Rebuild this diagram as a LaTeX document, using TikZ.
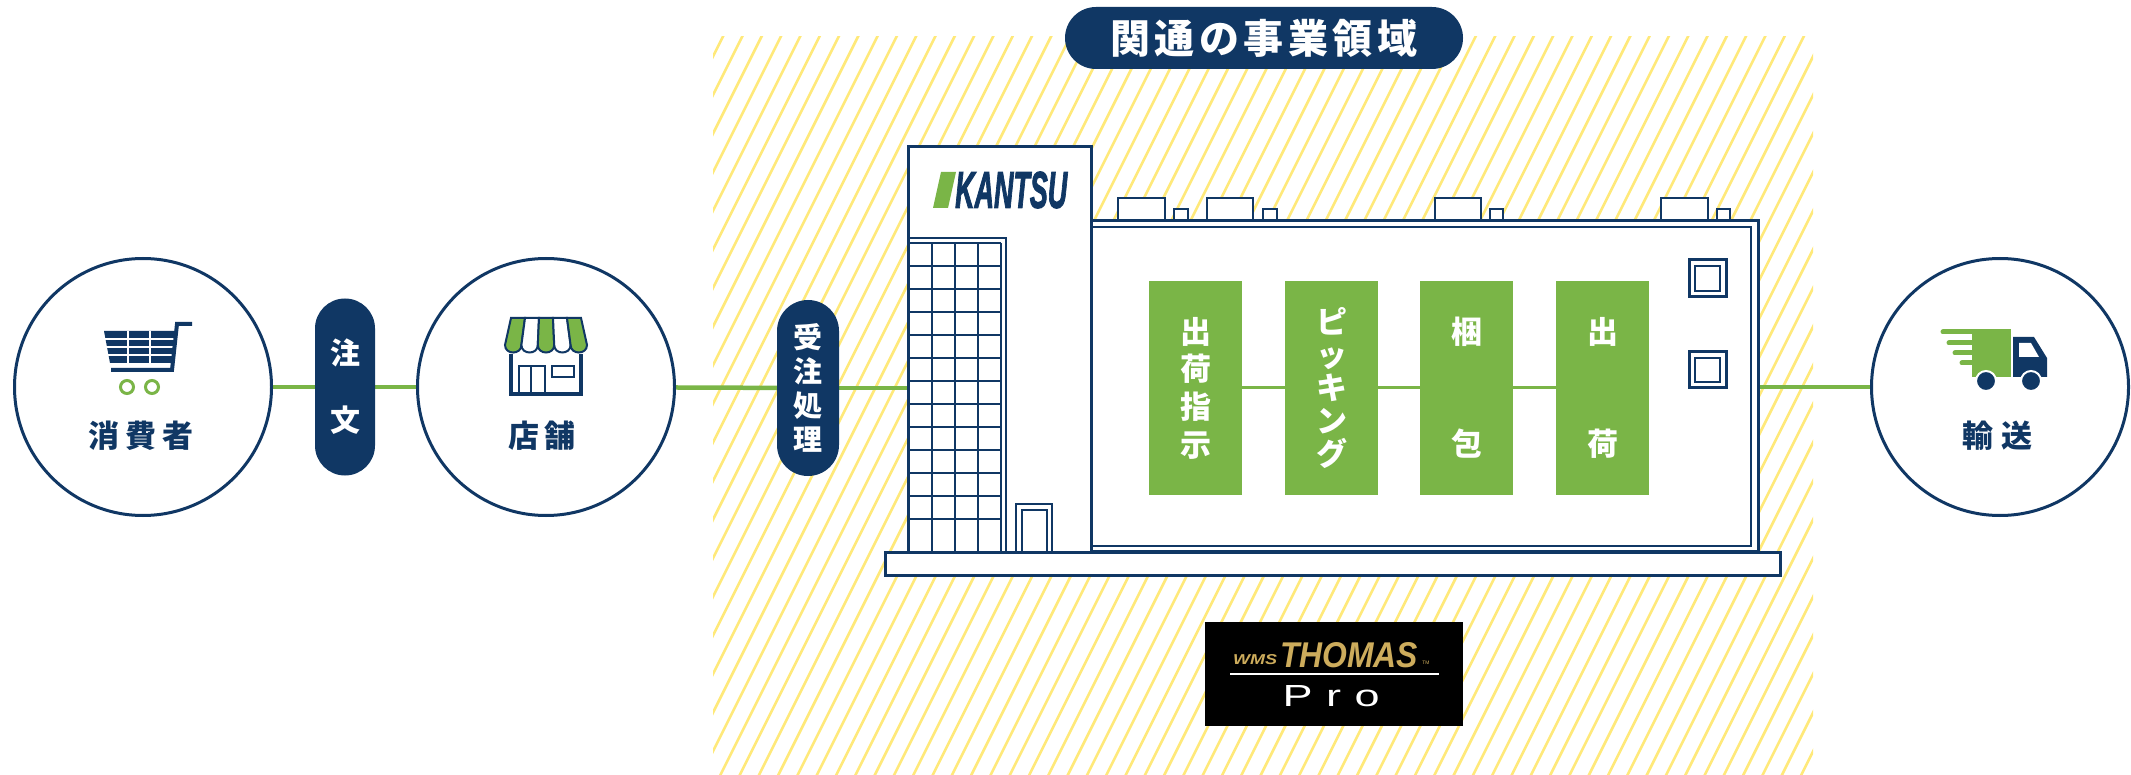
\documentclass[tikz,border=0pt]{standalone}
\usepackage{fontspec}
\usepackage{graphicx}
\newfontfamily\jp{Noto Sans CJK JP}
\newfontfamily\lsans{Liberation Sans}
\newfontfamily\logofont[FakeBold=2.5]{Liberation Sans Bold Italic}
\definecolor{navy}{RGB}{16,55,100}
\definecolor{leaf}{RGB}{122,181,71}
\definecolor{hatch}{RGB}{255,233,122}
\definecolor{gold}{RGB}{205,172,92}
\pgfdeclarelayer{hatchlayer}
\pgfdeclarelayer{linklayer}
\pgfsetlayers{hatchlayer,linklayer,main}
\begin{document}
\begin{tikzpicture}[x=1pt,y=-1pt,line join=miter,
  circ/.style={circle,draw=navy,line width=3pt,fill=white,minimum size=257pt,inner sep=0pt},
  pill/.style={rectangle,rounded corners=30pt,fill=navy,text=white,inner sep=0pt,align=center},
  stepbox/.style={rectangle,fill=leaf,text=white,minimum width=93pt,minimum height=213pt,inner sep=0pt,align=center},
  lbl/.style={text=navy,inner sep=0pt,font=\jp\bfseries\fontsize{31}{31}\selectfont},
  link/.style={draw=leaf,line width=4.5pt},
  innerlink/.style={draw=leaf,line width=3pt},
  wall/.style={draw=navy,line width=3pt,fill=white},
  fine/.style={draw=navy,line width=2.2pt},
  hatchline/.style={draw=hatch,line width=2.6pt}]
\useasboundingbox (0,0) rectangle (2131,775);

% striped business area
\begin{pgfonlayer}{hatchlayer}
  \begin{scope}
    \clip (713,37) rectangle (1813,775);
    \foreach \k in {0,...,77} {
      \draw[hatchline] ({726.2+19.3*\k},30) -- ++(-379,758);
    }
  \end{scope}
\end{pgfonlayer}

% title
\node[pill,rounded corners=31pt,minimum width=398pt,minimum height=62pt,
      font=\jp\bfseries\fontsize{40}{40}\selectfont] (title) at (1264,38)
  {関\kern4.5pt 通\kern4.5pt の\kern4.5pt 事\kern4.5pt 業\kern4.5pt 領\kern4.5pt 域};

% flow circles and order pills
\node[circ] (c1) at (143,387) {};
\node[pill,minimum width=60pt,minimum height=177pt,
      font=\jp\bfseries\fontsize{30}{67}\selectfont] (p1) at (345,387) {注\\文};
\node[circ] (c2) at (546,387) {};
\node[pill,rounded corners=31pt,minimum width=62pt,minimum height=176pt,
      font=\jp\bfseries\fontsize{29}{34}\selectfont] (p2) at (808,388) {受\\注\\処\\理};
\node[circ] (c3) at (2000,387) {};

\node[lbl] (c1t) at (141,436) {消\kern6pt 費\kern6pt 者};
\node[lbl] (c2t) at (542,436) {店\kern5pt 舗};
\node[lbl] (c3t) at (1997,436) {輸\kern8pt 送};

% shopping cart
\fill[navy] (104,331) -- (176,331) -- (172,363) -- (110,363) -- cycle;
\draw[white,line width=2pt] (105,339) -- (176,339) (106,347) -- (175,347) (108,355) -- (174,355)
  (128,331) -- (128,363) (150,331) -- (150,363);
\draw[navy,line width=4pt] (192,324) -- (177,324) -- (172,370) -- (111,370);
\draw[leaf,line width=3pt] (127,387) circle (6.5) (152,387) circle (6.5);

% shop
\foreach \i/\c in {0/leaf,1/white,2/leaf,3/white,4/leaf} {
  \draw[navy,line width=2pt,fill=\c]
    ({511+14*\i},318) -- ({525+14*\i},318) -- ({521.4+16.4*\i},345)
    .. controls ({521.4+16.4*\i},355) and ({505+16.4*\i},355) .. ({505+16.4*\i},345) -- cycle;
}
\draw[navy,line width=3.5pt] (511,354) -- (511,394) -- (581,394) -- (581,354);
\draw[navy,line width=2.5pt] (519,394) -- (519,366) -- (545,366) -- (545,394) (531,366) -- (531,394);
\draw[navy,line width=2.5pt] (552,366) rectangle (574,377);

% delivery truck
\fill[leaf] (1972,329) rectangle (2011,377);
\draw[leaf,line width=5pt,line cap=round] (1943,332) -- (1975,332) (1949,343) -- (1975,343)
  (1955,353) -- (1975,353) (1962,363) -- (1975,363);
\fill[navy] (2013,337) -- (2034,337) -- (2047,358) -- (2047,377) -- (2013,377) -- cycle;
\fill[white] (2019,343) -- (2031,343) -- (2039,357) -- (2019,357) -- cycle;
\draw[white,line width=2pt,fill=navy] (1986,381) circle (10) (2031,381) circle (10);

% warehouse roof units
\foreach \a/\b/\c/\d in {1118/1165/1174/1188,1207/1253/1263/1277,1435/1481/1490/1503,1661/1708/1717/1730} {
  \draw[fine,fill=white] (\a,221) rectangle (\b,198);
  \draw[fine,fill=white] (\c,221) rectangle (\d,209);
}

% warehouse and office tower
\node[wall,rectangle,minimum width=667pt,minimum height=330pt,inner sep=0pt] (wh) at (1424.5,386) {};
\draw[navy,line width=2pt] (1091,227) -- (1751,227) -- (1751,546) -- (1091,546);
\node[wall,rectangle,minimum width=183pt,minimum height=405pt,inner sep=0pt] (tower) at (999.5,349.5) {};

% tower windows
\foreach \xx in {932,955,978,1001} { \draw[fine] (\xx,243) -- (\xx,552); }
\foreach \k in {0,...,12} { \draw[fine] (908,{243+23*\k}) -- (1001,{243+23*\k}); }
\draw[fine] (908,238) -- (1006,238) -- (1006,552);
\draw[fine] (1016,552) -- (1016,504) -- (1052,504) -- (1052,552);
\draw[fine] (1022,552) -- (1022,510) -- (1047,510) -- (1047,552);

% logo on the tower
\fill[leaf] (941,172) -- (956,172) -- (948,208) -- (933,208) -- cycle;
\node[inner sep=0pt,anchor=west,text=navy] (logo) at (955,190)
  {\resizebox{112pt}{36pt}{\logofont KANTSU}};

% warehouse windows
\draw[wall] (1689,260) rectangle (1726,297);
\draw[fine] (1695,266) rectangle (1720,291);
\draw[wall] (1689,352) rectangle (1726,388);
\draw[fine] (1695,358) rectangle (1720,382);

% base slab
\node[wall,rectangle,minimum width=895pt,minimum height=23pt,inner sep=0pt] (base) at (1332.5,563.5) {};

% process steps
\node[stepbox,font=\jp\bfseries\fontsize{31}{37.7}\selectfont] (b1) at (1195.5,388) {出\\荷\\指\\示};
\node[stepbox,font=\jp\bfseries\fontsize{31}{33}\selectfont] (b2) at (1331.5,388) {ピ\\ッ\\キ\\ン\\グ};
\node[stepbox,font=\jp\bfseries\fontsize{31}{112}\selectfont] (b3) at (1466.5,388) {梱\\包};
\node[stepbox,font=\jp\bfseries\fontsize{31}{112}\selectfont] (b4) at (1602.5,388) {出\\荷};
\draw[innerlink] (b1) -- (b2);
\draw[innerlink] (b2) -- (b3);
\draw[innerlink] (b3) -- (b4);

% WMS badge
\node[rectangle,fill=black,minimum width=258pt,minimum height=104pt,inner sep=0pt] (wms) at (1334,674) {};
\node[inner sep=0pt,text=gold] (wmsa) at (1255,660) {\resizebox{44pt}{10pt}{\lsans\bfseries\itshape WMS}};
\node[inner sep=0pt,text=gold] (wmsb) at (1349,655) {\resizebox{138pt}{25pt}{\lsans\bfseries\itshape THOMAS}};
\node[inner sep=0pt,text=gold,font=\lsans\fontsize{5}{5}\selectfont] (wmsc) at (1426,663) {TM};
\draw[white,line width=1.5pt] (1230,674) -- (1439,674);
\node[inner sep=0pt,text=white] (wmsd) at (1331,696) {\resizebox{97pt}{21pt}{\lsans P\kern3pt r\kern3pt o}};

% flow connectors
\begin{pgfonlayer}{linklayer}
  \draw[link] (c1) -- (p1);
  \draw[link] (p1) -- (c2);
  \draw[link] (c2) -- (p2);
  \draw[link] (p2) -- (p2 -| tower.west);
  \draw[link] (c3.west -| wh.east) -- (c3);
\end{pgfonlayer}
\end{tikzpicture}
\end{document}
